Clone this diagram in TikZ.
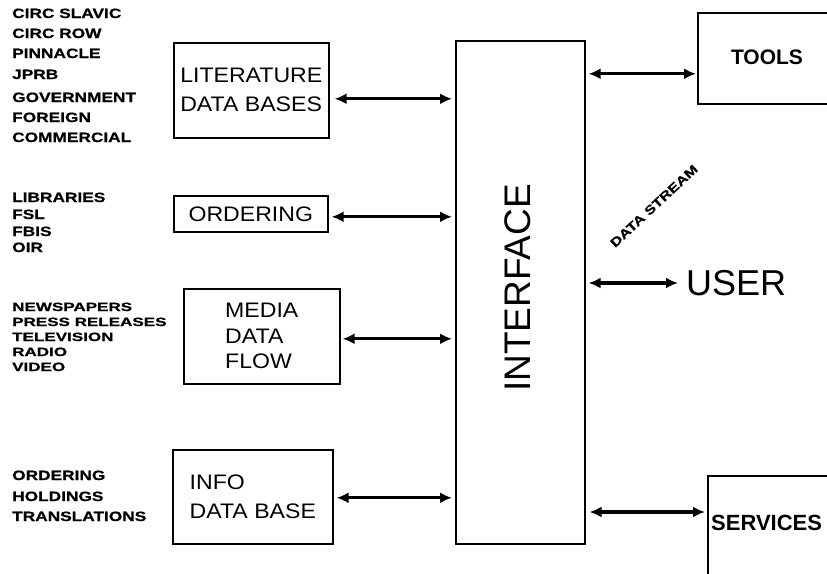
\documentclass[tikz,border=0pt]{standalone}
\usepackage{fontspec}
\setmainfont{Liberation Sans}
\newfontfamily\listfont{Liberation Sans}[FakeStretch=1.28,FakeBold=0.8]
\newfontfamily\listfontc{Liberation Sans}[FakeStretch=1.42,FakeBold=0.8]
\newfontfamily\boxfont{Liberation Sans}[FakeStretch=1.1]
\usetikzlibrary{arrows.meta}
\begin{document}
\begin{tikzpicture}[x=1pt,y=-1pt,
  box/.style={draw, line width=1.6pt, inner sep=0pt, align=left},
  lst/.style={anchor=base west, inner sep=0pt, font=\listfont\bfseries\fontsize{13.5}{16}\selectfont},
  lstc/.style={anchor=base west, inner sep=0pt, font=\listfontc\bfseries\fontsize{12}{14}\selectfont},
  dbl/.style={line width=3.3pt, {Latex[length=12pt,width=11pt]}-{Latex[length=12pt,width=11pt]}},
  bigtxt/.style={font=\boxfont\fontsize{21}{29}\selectfont}
]
\clip (0,0) rectangle (827,573);
\fill[white] (0,0) rectangle (827,573);

% left lists
\foreach \t/\yy [count=\i] in {CIRC SLAVIC/18, CIRC ROW/38, PINNACLE/58, JPRB/79, GOVERNMENT/102, FOREIGN/122, COMMERCIAL/142}
  \node[lst] (la\i) at (12,\yy) {\t};
\foreach \t/\yy [count=\i] in {LIBRARIES/202, FSL/219, FBIS/236, OIR/252}
  \node[lst] (lb\i) at (12,\yy) {\t};
\foreach \t/\yy [count=\i] in {NEWSPAPERS/311, PRESS RELEASES/326, TELEVISION/341, RADIO/356, VIDEO/371}
  \node[lstc] (lc\i) at (12,\yy) {\t};
\foreach \t/\yy [count=\i] in {ORDERING/480, HOLDINGS/501, TRANSLATIONS/521}
  \node[lst] (ld\i) at (12,\yy) {\t};

% left boxes
\node[box, bigtxt, anchor=north west, minimum width=155pt, minimum height=95pt] (lit) at (173,42) {LITERATURE\\DATA BASES};
\node[box, bigtxt, anchor=north west, minimum width=154pt, minimum height=36pt] (ord) at (173,195) {ORDERING};
\node[box, anchor=north west, minimum width=156pt, minimum height=95pt, font=\boxfont\fontsize{21}{25.5}\selectfont] (med) at (183,288) {MEDIA\\DATA\\FLOW};
\node[box, bigtxt, anchor=north west, minimum width=160pt, minimum height=94pt] (inf) at (172,449) {INFO\\DATA BASE};

% interface
\node[box, anchor=north west, minimum width=129pt, minimum height=503pt] (intf) at (455,40) {};
\node[rotate=90, font=\fontsize{37}{37}\selectfont] (intft) at (518,288) {INTERFACE};

% right side
\node[box, anchor=north west, minimum width=140pt, minimum height=91pt] (tools) at (697,12) {};
\node[font=\bfseries\fontsize{21}{21}\selectfont] (toolst) at (767,57) {TOOLS};
\node[box, anchor=north west, minimum width=140pt, minimum height=120pt] (svc) at (707,475) {};
\node[anchor=west, inner sep=0pt, font=\bfseries\fontsize{22}{22}\selectfont] (svct) at (711,523) {SERVICES};
\node[anchor=west, inner sep=0pt, font=\fontsize{36}{36}\selectfont] (user) at (686,283) {USER};
\node[rotate=43, font=\listfont\bfseries\fontsize{12.5}{13}\selectfont] (ds) at (654,206) {DATA STREAM};

% connectors
\path (lit.east) ++(5,8.5) coordinate (a1);
\path (ord.east) ++(3,3) coordinate (a2);
\path (med.east) ++(2,2.5) coordinate (a3);
\path (inf.east) ++(3,1) coordinate (a4);
\foreach \c in {a1,a2,a3,a4}
  \draw[dbl, shorten >=3pt] (\c) -- (\c -| intf.west);
\path (tools.west) ++(-1,15.5) coordinate (t1);
\draw[dbl, shorten <=3pt] (t1 -| intf.east) -- (t1);
\draw[dbl, shorten <=3pt, shorten >=8pt] (user.west -| intf.east) -- (user.west);
\path (svc.north west) ++(-2,37) coordinate (s1);
\draw[dbl, shorten <=4pt] (s1 -| intf.east) -- (s1);
\end{tikzpicture}
\end{document}
